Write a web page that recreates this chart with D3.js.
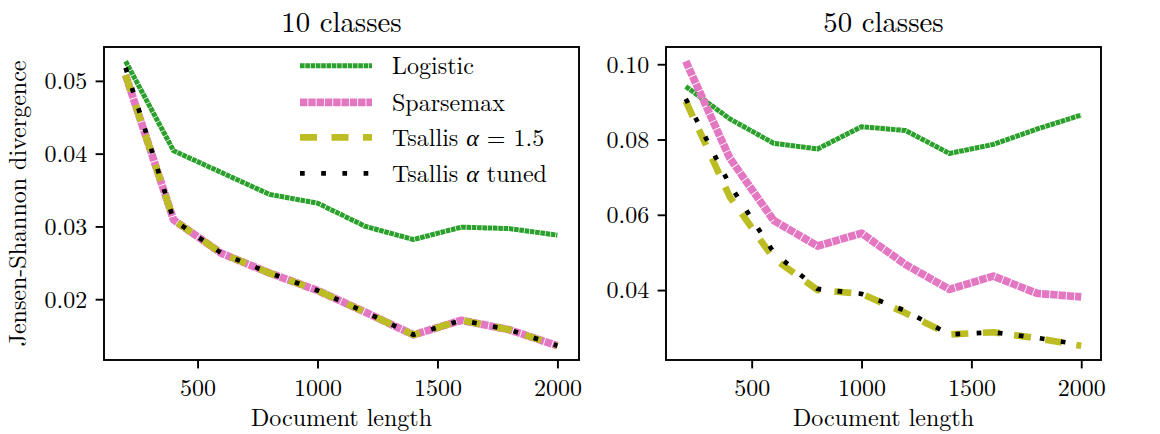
<!DOCTYPE html>
<html>
<head>
<meta charset="utf-8">
<script src="https://cdn.jsdelivr.net/npm/d3@7"></script>
<style>
  body { margin: 0; background: #fff; }
</style>
</head>
<body>
<svg id="chart" width="1160" height="434"></svg>
<script>
// Dados
const docLength = [200, 400, 600, 800, 1000, 1200, 1400, 1600, 1800, 2000];

const logistic10  = [0.0527, 0.0404, 0.0374, 0.0344, 0.0332, 0.0300, 0.0282, 0.0299, 0.0297, 0.0288];
const sparsemax10 = [0.0508, 0.0309, 0.0263, 0.0236, 0.0212, 0.0182, 0.0151, 0.0171, 0.0158, 0.0136];
const tsallis10   = [0.0508, 0.0309, 0.0263, 0.0236, 0.0212, 0.0182, 0.0151, 0.0171, 0.0158, 0.0136];
const tuned10     = [0.0518, 0.0309, 0.0263, 0.0236, 0.0212, 0.0182, 0.0151, 0.0171, 0.0158, 0.0136];

const logistic50  = [0.0941, 0.0855, 0.0790, 0.0775, 0.0834, 0.0824, 0.0763, 0.0787, 0.0828, 0.0865];
const sparsemax50 = [0.1008, 0.0751, 0.0585, 0.0517, 0.0551, 0.0468, 0.0402, 0.0437, 0.0391, 0.0382];
const tsallis50   = [0.0902, 0.0648, 0.0484, 0.0400, 0.0390, 0.0339, 0.0282, 0.0288, 0.0272, 0.0252];
const tuned50     = [0.0908, 0.0680, 0.0500, 0.0403, 0.0390, 0.0345, 0.0282, 0.0288, 0.0273, 0.0255];

const seriesNames = ['Logistic', 'Sparsemax', 'Tsallis α = 1.5', 'Tsallis α tuned'];
const panelTitles = ['10 classes', '50 classes'];
const xTicks = [500, 1000, 1500, 2000];
const yTicks10 = [0.02, 0.03, 0.04, 0.05];
const yTicks50 = [0.04, 0.06, 0.08, 0.10];

// Estilos das linhas (cor, espessura, tracejado)
const lineStyles = [
  { color: '#2ca02c', width: 5,   dash: '4.6,0.7' },
  { color: '#e377c2', width: 7.7, dash: '7.4,0.9' },
  { color: '#bcbd22', width: 6.7, dash: '17,14.5' },
  { color: '#000000', width: 4.7, dash: '4.7,16.5' }
];

const fontFamily = '"Latin Modern Roman", "Liberation Serif", serif';
const svg = d3.select('#chart');
const plotTop = 47, plotBottom = 360;
const tickLen = 8.4, tickPad = 8.4;

function drawPanel(left, right, series, yTicks, title, withYLabel, withLegend) {
  const x = d3.scaleLinear()
    .domain([110, 2090])
    .range([left, right]);

  const all = series.flat();
  const lo = d3.min(all), hi = d3.max(all);
  const m = (hi - lo) * 0.05;
  const y = d3.scaleLinear()
    .domain([lo - m, hi + m])
    .range([plotBottom, plotTop]);

  const g = svg.append('g');

  // Linhas
  const line = d3.line()
    .x((d, i) => x(docLength[i]))
    .y(d => y(d));

  series.forEach((vals, k) => {
    const st = lineStyles[k];
    g.append('path')
      .datum(vals)
      .attr('d', line)
      .attr('fill', 'none')
      .attr('stroke', st.color)
      .attr('stroke-width', st.width)
      .attr('stroke-dasharray', st.dash)
      .attr('stroke-linecap', 'butt')
      .attr('stroke-linejoin', 'round');
  });

  // Eixo X
  const ax = g.append('g')
    .attr('transform', `translate(0,${plotBottom})`)
    .call(d3.axisBottom(x).tickValues(xTicks).tickSize(tickLen).tickPadding(tickPad).tickFormat(d3.format('d')));
  ax.select('.domain').remove();
  ax.selectAll('line').attr('stroke', '#000').attr('stroke-width', 1.9);
  ax.selectAll('text')
    .attr('font-size', 24)
    .attr('fill', '#000')
    .attr('dy', '0.78em');

  // Eixo Y
  const ay = g.append('g')
    .attr('transform', `translate(${left},0)`)
    .call(d3.axisLeft(y).tickValues(yTicks).tickSize(tickLen).tickPadding(tickPad).tickFormat(d3.format('.2f')));
  ay.select('.domain').remove();
  ay.selectAll('line').attr('stroke', '#000').attr('stroke-width', 1.9);
  ay.selectAll('text')
    .attr('font-size', 24)
    .attr('fill', '#000')
    .attr('dy', '0.33em');

  // Moldura
  g.append('rect')
    .attr('x', left)
    .attr('y', plotTop)
    .attr('width', right - left)
    .attr('height', plotBottom - plotTop)
    .attr('fill', 'none')
    .attr('stroke', '#000')
    .attr('stroke-width', 1.9);

  // Título
  g.append('text')
    .attr('x', (left + right) / 2)
    .attr('y', 32)
    .attr('text-anchor', 'middle')
    .attr('font-size', 28.8)
    .text(title);

  // Título do eixo X
  g.append('text')
    .attr('x', (left + right) / 2)
    .attr('y', 426)
    .attr('text-anchor', 'middle')
    .attr('font-size', 24)
    .text('Document length');

  if (withYLabel) {
    g.append('text')
      .attr('transform', `translate(26,${(plotTop + plotBottom) / 2}) rotate(-90)`)
      .attr('text-anchor', 'middle')
      .attr('font-size', 24)
      .text('Jensen-Shannon divergence');
  }

  if (withLegend) {
    const rows = [65.7, 102.3, 137.3, 173.3];
    const leg = g.append('g');
    seriesNames.forEach((name, k) => {
      const st = lineStyles[k];
      leg.append('line')
        .attr('x1', 300).attr('x2', 372)
        .attr('y1', rows[k]).attr('y2', rows[k])
        .attr('stroke', st.color)
        .attr('stroke-width', st.width)
        .attr('stroke-dasharray', st.dash)
        .attr('stroke-linecap', 'butt');

      const t = leg.append('text')
        .attr('x', 392)
        .attr('y', rows[k] + 8.5)
        .attr('font-size', 24);
      if (name.includes('α')) {
        const parts = name.split('α');
        t.append('tspan').text(parts[0]);
        t.append('tspan').style('font-style', 'italic').text('α');
        t.append('tspan').text(parts[1]);
      } else {
        t.text(name);
      }
    });
  }
}

drawPanel(104, 579, [logistic10, sparsemax10, tsallis10, tuned10], yTicks10, panelTitles[0], true, true);
drawPanel(666, 1101, [logistic50, sparsemax50, tsallis50, tuned50], yTicks50, panelTitles[1], false, false);

// Fonte aplicada direto em cada texto
svg.selectAll('text').style('font-family', fontFamily).style('fill', '#000');
</script>
</body>
</html>
